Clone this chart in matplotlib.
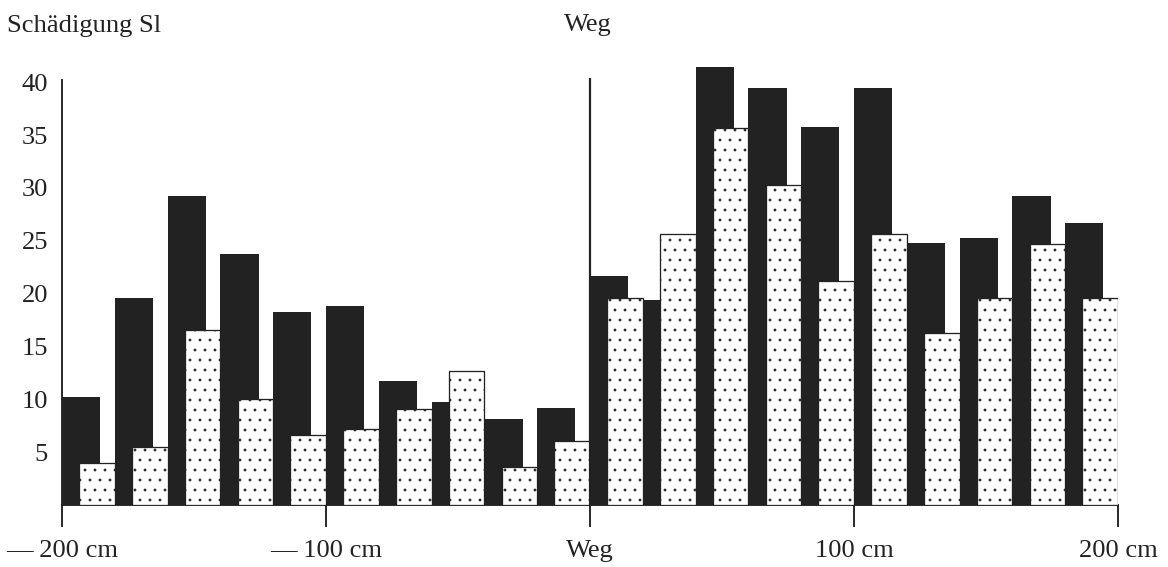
import numpy as np
import matplotlib.pyplot as plt

DPI = 120  # hatch spacing follows the dpi, 120 gives the sparse dot raster


def px(v):
    # pixel size -> points at the chosen dpi
    return v * 72 / DPI


plt.rcParams["font.family"] = ["Liberation Serif", "DejaVu Serif"]
plt.rcParams["font.size"] = px(26.5)
plt.rcParams["hatch.linewidth"] = px(0.8)

# Schaedigung je 20-cm-Abschnitt, links und rechts vom Weg
black_left = [10.2, 19.6, 29.2, 23.7, 18.3, 18.8, 11.7, 9.7, 8.1, 9.2]
dots_left = [4.0, 5.5, 16.6, 10.0, 6.6, 7.2, 9.1, 12.7, 3.6, 6.1]
black_right = [21.7, 19.4, 41.4, 39.4, 35.8, 39.4, 24.8, 25.3, 29.2, 26.7]
dots_right = [19.6, 25.6, 35.7, 30.3, 21.2, 25.6, 16.3, 19.6, 24.7, 19.6]

x_ticks = [-200, -100, 0, 100, 200]
x_labels = ["\u2014 200 cm", "\u2014 100 cm", "Weg", "100 cm", "200 cm"]
y_ticks = [5, 10, 15, 20, 25, 30, 35, 40]

starts = np.arange(-200, 200, 20)
black = black_left + black_right
dots = dots_left + dots_right
ink = "#222222"

fig = plt.figure(figsize=(1168 / DPI, 567 / DPI), dpi=DPI)
ax = fig.add_axes([62 / 1168, 62 / 567, 1056 / 1168, 444 / 567])

ax.bar(starts, black, width=14.5, align="edge", color=ink, linewidth=0, zorder=2)
ax.bar(starts + 6.5, dots, width=13.5, align="edge", facecolor="white",
       edgecolor=ink, linewidth=px(1.3), hatch="..", zorder=3)

# Weg-Linie
ax.vlines(0, 0, 40.4, color=ink, linewidth=px(2.2), zorder=4)

ax.set_xlim(-200, 200)
ax.set_ylim(0, 42)
for s in ["top", "right"]:
    ax.spines[s].set_visible(False)
ax.spines["left"].set_bounds(0, 40.2)
for s in ["left", "bottom"]:
    ax.spines[s].set_linewidth(px(1.9))
    ax.spines[s].set_color(ink)

ax.set_xticks(x_ticks, x_labels)
ax.tick_params(axis="x", length=px(22), width=px(1.9), color=ink, pad=px(13), labelcolor=ink)
ax.set_yticks(y_ticks)
ax.tick_params(axis="y", length=0, pad=px(14), labelcolor=ink)

fig.text(7 / 1168, 1 - 26 / 567, "Sch\u00e4digung Sl", ha="left", va="center", color=ink)
fig.text(588 / 1168, 1 - 25 / 567, "Weg", ha="center", va="center", color=ink)

fig.savefig("out.png", dpi=DPI)
